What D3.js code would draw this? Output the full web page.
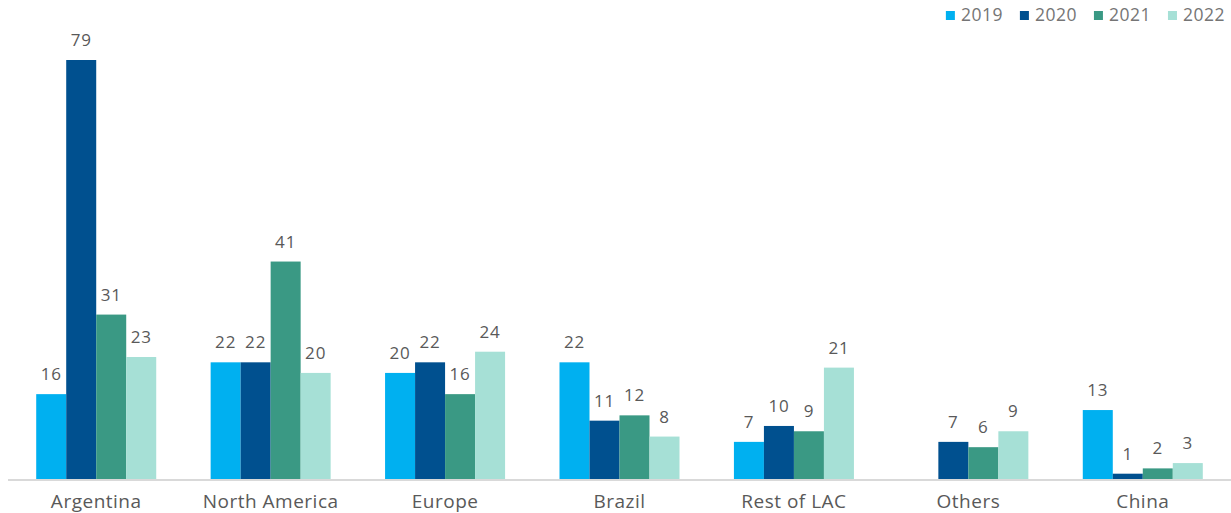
<!DOCTYPE html>
<html>
<head>
<meta charset="utf-8">
<script src="https://cdn.jsdelivr.net/npm/d3@7"></script>
<style>
  html, body { margin: 0; padding: 0; background: #fff; }
  svg { display: block; font-family: "Open Sans", "DejaVu Sans", sans-serif; }
</style>
</head>
<body>
<svg id="chart" width="1231" height="513"></svg>
<script>
// Regions shown along the x axis
const categories = ["Argentina", "North America", "Europe", "Brazil", "Rest of LAC", "Others", "China"];
// Years in the legend
const years = ["2019", "2020", "2021", "2022"];
// Values per year, in category order (null = no bar)
const values2019 = [16, 22, 20, 22, 7, null, 13];
const values2020 = [79, 22, 22, 11, 10, 7, 1];
const values2021 = [31, 41, 16, 12, 9, 6, 2];
const values2022 = [23, 20, 24, 8, 21, 9, 3];
const colors = ["#00b0f0", "#00508f", "#3a9984", "#a6e0d6"];

const seriesValues = [values2019, values2020, values2021, values2022];

const svg = d3.select("#chart");
const baseline = 479;

const x0 = d3.scaleBand()
  .domain(categories)
  .range([9, 1230])
  .paddingInner(0.312)
  .paddingOuter(0.156);

const x1 = d3.scaleBand()
  .domain(years)
  .range([0, x0.bandwidth()])
  .padding(0);

const y = d3.scaleLinear()
  .domain([0, 79])
  .range([baseline, 60]);

// Flatten into one record per bar
const bars = [];
categories.forEach((c, i) => {
  years.forEach((yr, j) => {
    const v = seriesValues[j][i];
    if (v !== null && v !== undefined) bars.push({ cat: c, year: yr, value: v, color: colors[j] });
  });
});

const g = svg.append("g");

g.selectAll("rect.bar")
  .data(bars)
  .enter().append("rect")
  .attr("class", "bar")
  .attr("x", d => x0(d.cat) + x1(d.year))
  .attr("width", x1.bandwidth())
  .attr("y", d => y(d.value))
  .attr("height", d => baseline - y(d.value))
  .attr("fill", d => d.color);

g.selectAll("text.val")
  .data(bars)
  .enter().append("text")
  .attr("class", "val")
  .attr("x", d => x0(d.cat) + x1(d.year) + x1.bandwidth() / 2)
  .attr("y", d => y(d.value) - 14)
  .attr("text-anchor", "middle")
  .attr("font-size", 17)
  .attr("letter-spacing", 0.8)
  .attr("fill", "#595959")
  .text(d => d.value);

// Category axis
const xAxis = d3.axisBottom(x0).tickSize(0).tickPadding(15);
const axisG = svg.append("g")
  .attr("transform", `translate(0,${baseline + 1})`)
  .call(xAxis);
axisG.select(".domain").remove();
axisG.selectAll("text")
  .attr("font-size", 19)
  .attr("letter-spacing", 0.5)
  .attr("font-family", "\"Open Sans\", sans-serif")
  .attr("fill", "#595959");

svg.append("line")
  .attr("x1", 8).attr("x2", 1231)
  .attr("y1", baseline + 1).attr("y2", baseline + 1)
  .attr("stroke", "#d9d9d9")
  .attr("stroke-width", 2);

// Legend, right-aligned, items laid out by measured text width
const legend = svg.append("g");
const swatch = 9, swatchGap = 6, itemGap = 17, legendRight = 1225;
const items = years.map((yr, j) => {
  const item = legend.append("g");
  item.append("rect")
    .attr("y", 11)
    .attr("width", swatch).attr("height", swatch)
    .attr("fill", colors[j]);
  const t = item.append("text")
    .attr("x", swatch + swatchGap).attr("y", 21)
    .attr("font-size", 17.5)
    .attr("letter-spacing", 0.5)
    .attr("fill", "#757575")
    .text(yr);
  return { item, w: swatch + swatchGap + t.node().getBBox().width };
});
const total = d3.sum(items, d => d.w) + itemGap * (items.length - 1);
let lx = legendRight - total;
items.forEach(d => {
  d.item.attr("transform", `translate(${lx},0)`);
  lx += d.w + itemGap;
});
</script>
</body>
</html>
